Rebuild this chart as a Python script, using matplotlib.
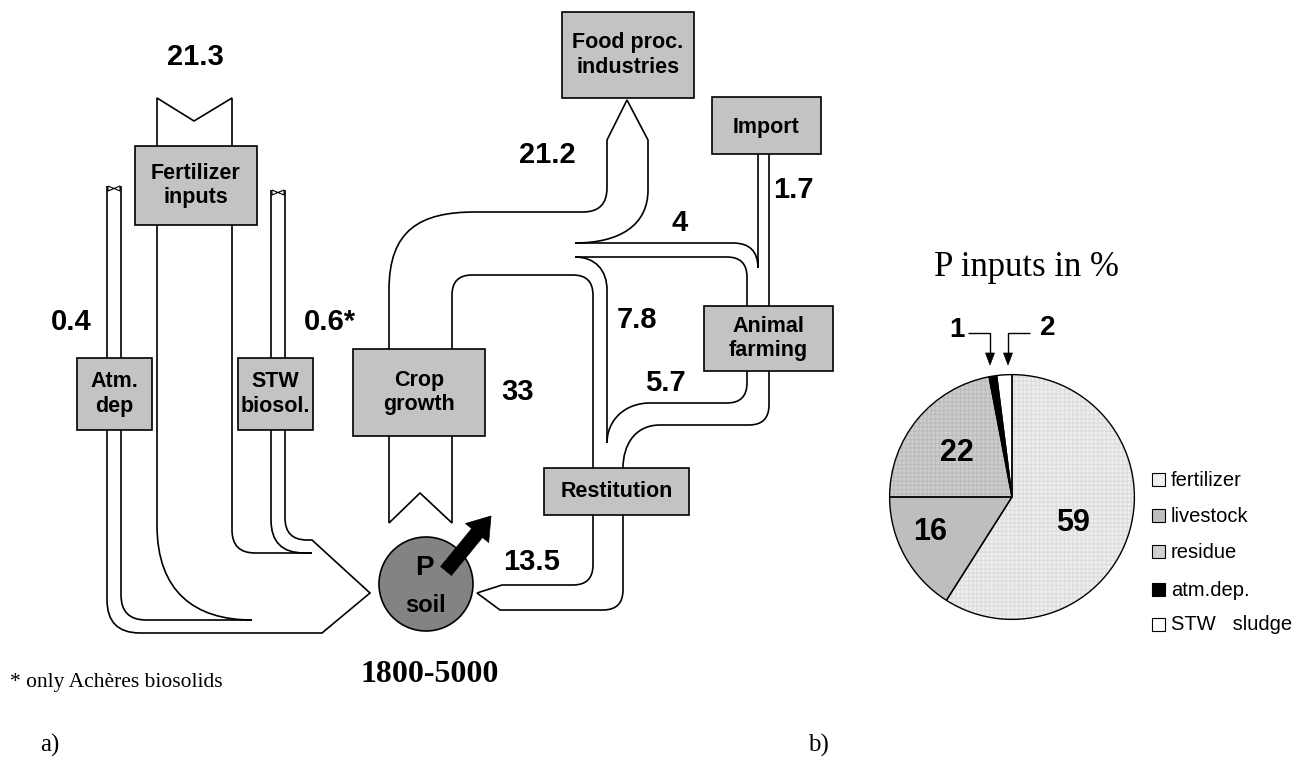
import matplotlib
matplotlib.use("Agg")
import matplotlib.pyplot as plt
from matplotlib.path import Path
from matplotlib.patches import PathPatch, Rectangle, Circle, Polygon
import numpy as np

# ---------------- data ----------------
flow_values = ["21.3", "0.4", "0.6*", "33", "21.2", "4", "1.7", "7.8", "5.7", "13.5"]
soil_stock = "1800-5000"
box_names = ["Fertilizer\ninputs", "Atm.\ndep", "STW\nbiosol.", "Crop\ngrowth",
             "Food proc.\nindustries", "Import", "Animal\nfarming", "Restitution"]
pie_categories = ["fertilizer", "livestock", "residue", "atm.dep.", "STW   sludge"]
pie_values = [59, 16, 22, 1, 2]
pie_shown = ["59", "16", "22", "1", "2"]
pie_title = "P inputs in %"
footnote = "* only Achères biosolids"

# ---------------- layout (pixels) ----------------
W, H = 1301, 769
fig = plt.figure(figsize=(W / 100, H / 100), dpi=100)
ax = fig.add_axes([0, 0, 1, 1])
ax.set_xlim(0, W)
ax.set_ylim(H, 0)
ax.axis("off")

BOX = "#c3c3c3"
LW = 1.2
SANS = "Liberation Sans"
SERIF = "Liberation Serif"


def line(cmds, lw=LW, target=None):
    target = target or ax
    verts, codes = [], []
    for c in cmds:
        if c[0] == "M":
            verts.append(c[1:3]); codes.append(Path.MOVETO)
        elif c[0] == "L":
            verts.append(c[1:3]); codes.append(Path.LINETO)
        elif c[0] == "Q":
            verts += [c[1:3], c[3:5]]; codes += [Path.CURVE3] * 2
        elif c[0] == "C":
            verts += [c[1:3], c[3:5], c[5:7]]; codes += [Path.CURVE4] * 3
    p = PathPatch(Path(verts, codes), facecolor="none", edgecolor="black",
                  lw=lw, zorder=2, capstyle="butt", joinstyle="miter")
    target.add_patch(p)


# fertilizer
line([("M", 157, 146), ("L", 157, 98), ("L", 194, 121), ("L", 232, 98), ("L", 232, 146)])
line([("M", 157, 225), ("L", 157, 525), ("C", 157, 592, 195, 620, 252, 620)])
line([("M", 232, 225), ("L", 232, 530), ("Q", 232, 553, 255, 553), ("L", 312, 553)])
# atm dep
line([("M", 107, 358), ("L", 107, 186)])
line([("M", 121, 358), ("L", 121, 186)])
line([("M", 108, 186), ("L", 120, 191), ("L", 120, 186), ("L", 108, 191), ("L", 108, 186)], lw=0.8)
line([("M", 107, 430), ("L", 107, 600), ("Q", 107, 633, 140, 633), ("L", 322, 633),
      ("L", 370, 593), ("L", 312, 540), ("L", 307, 540), ("Q", 285, 540, 285, 518), ("L", 285, 430)])
line([("M", 121, 430), ("L", 121, 595), ("Q", 121, 620, 146, 620), ("L", 252, 620)])
# STW
line([("M", 271, 358), ("L", 271, 190)])
line([("M", 285, 358), ("L", 285, 190)])
line([("M", 272, 190), ("L", 284, 195), ("L", 284, 190), ("L", 272, 195), ("L", 272, 190)], lw=0.8)
line([("M", 271, 430), ("L", 271, 520), ("Q", 271, 553, 304, 553), ("L", 312, 553)])
# crop
line([("M", 389, 436), ("L", 389, 523), ("L", 420, 493), ("L", 452, 523), ("L", 452, 436)])
line([("M", 389, 349), ("L", 389, 290), ("C", 389, 230, 420, 212, 475, 212), ("L", 583, 212),
      ("Q", 607, 212, 607, 188), ("L", 607, 140), ("L", 627, 100), ("L", 648, 140),
      ("L", 648, 190), ("C", 648, 225, 620, 243, 575, 243)])
line([("M", 575, 243), ("L", 733, 243), ("Q", 758, 243, 758, 268), ("L", 758, 154)])
line([("M", 452, 349), ("L", 452, 295), ("Q", 452, 275, 472, 275), ("L", 573, 275),
      ("Q", 593, 275, 593, 295), ("L", 593, 468)])
line([("M", 575, 257), ("L", 727, 257), ("Q", 747, 257, 747, 277), ("L", 747, 306)])
line([("M", 575, 257), ("C", 595, 257, 607, 270, 607, 290), ("L", 607, 443)])
line([("M", 769, 154), ("L", 769, 306)])
line([("M", 747, 371), ("L", 747, 383), ("Q", 747, 403, 727, 403), ("L", 650, 403),
      ("C", 625, 403, 607, 420, 607, 443)])
line([("M", 769, 371), ("L", 769, 405), ("Q", 769, 425, 749, 425), ("L", 660, 425),
      ("C", 635, 425, 623, 445, 623, 468)])
line([("M", 593, 515), ("L", 593, 565), ("Q", 593, 585, 573, 585), ("L", 502, 585),
      ("L", 477, 593), ("L", 500, 610), ("L", 603, 610), ("Q", 623, 610, 623, 590), ("L", 623, 515)])

# boxes
boxes = [(135, 146, 257, 225), (77, 358, 152, 430), (238, 358, 313, 430), (353, 349, 485, 436),
         (562, 12, 694, 98), (712, 97, 821, 154), (704, 306, 833, 371), (544, 468, 689, 515)]
text_y_shift = [0, 0, 0, 0, 0, 2, 0, 0]
for (x0, y0, x1, y1), name, dy in zip(boxes, box_names, text_y_shift):
    ax.add_patch(Rectangle((x0, y0), x1 - x0, y1 - y0, facecolor=BOX, edgecolor="black",
                           lw=LW, zorder=3))
    ax.text((x0 + x1) / 2, (y0 + y1) / 2 + dy, name, ha="center", va="center",
            family=SANS, weight="bold", fontsize=15.5, zorder=4, linespacing=1.2)

# soil pool
ax.add_patch(Circle((426, 584), 47, facecolor="#838383", edgecolor="black", lw=LW, zorder=3))
ax.text(424, 568, "P", ha="center", va="center", family=SANS, weight="bold", fontsize=20, zorder=4)
ax.text(425, 605, "soil", ha="center", va="center", family=SANS, weight="bold", fontsize=17, zorder=4)
# black arrow leaving soil
tail = np.array([446, 571.0]); tip = np.array([491, 516.0])
u = (tip - tail) / np.linalg.norm(tip - tail); n = np.array([-u[1], u[0]])
hl, sw, hw = 22, 7, 15
base = tip - u * hl
poly = [tail + n * sw, base + n * sw, base + n * hw, tip, base - n * hw, base - n * sw, tail - n * sw]
ax.add_patch(Polygon(poly, closed=True, facecolor="black", edgecolor="black", lw=0.5, zorder=5))

# flow labels
flow_pos = [(195, 57), (71, 322), (330, 322), (518, 392), (547, 155), (680, 223),
            (793, 190), (637, 320), (665, 383), (532, 562)]
for (x, y), t in zip(flow_pos, flow_values):
    ax.text(x, y, t, ha="center", va="center", family=SANS, weight="bold", fontsize=21)

ax.text(430, 675, soil_stock, ha="center", va="center", family=SERIF, weight="bold", fontsize=23)
ax.text(10, 682, footnote, ha="left", va="center", family=SERIF, fontsize=15.5)
ax.text(50, 745, "a)", ha="center", va="center", family=SERIF, fontsize=18)
ax.text(818, 745, "b)", ha="center", va="center", family=SERIF, fontsize=18)

# ---------------- pie ----------------
cx, cy, R = 1012, 497, 123
pax = fig.add_axes([(cx - R) / W, 1 - (cy + R) / H, 2 * R / W, 2 * R / H])
pie_colors = ["#efefef", "#bebebe", "#cfcfcf", "black", "white"]
hatch_colors = ["#dedede", "#bebebe", "#bdbdbd", "black", "white"]
hatches = ["++++", None, "++++", None, None]
# fill layer with light texture
w_fill, _ = pax.pie(pie_values, colors=pie_colors, startangle=90, counterclock=False,
                    wedgeprops=dict(linewidth=0))
for w, hc, h in zip(w_fill, hatch_colors, hatches):
    if h:
        w.set_hatch(h)
        w.set_edgecolor(hc)
        w.set_linewidth(0)
# outline layer
w_edge, _ = pax.pie(pie_values, colors=["none"] * len(pie_values), startangle=90,
                    counterclock=False, wedgeprops=dict(edgecolor="black", linewidth=1.0))
pax.set_xlim(-1.005, 1.005)
pax.set_ylim(-1.005, 1.005)
pax.set_aspect("equal")
pax.axis("off")

pie_label_pos = [(1073, 523), (930, 532), (957, 453)]
for (x, y), t in zip(pie_label_pos, pie_shown[:3]):
    pax.text(x, y, t, ha="center", va="center", family=SANS, weight="bold", fontsize=22,
             transform=ax.transData, zorder=6)

ax.text(1027, 268, pie_title, ha="center", va="center", family=SERIF, fontsize=25)
# small slice callouts
ax.text(957, 330, pie_shown[3], ha="center", va="center", family=SANS, weight="bold", fontsize=20)
ax.text(1048, 328, pie_shown[4], ha="center", va="center", family=SANS, weight="bold", fontsize=20)
line([("M", 968, 333), ("L", 990, 333), ("L", 990, 356)], lw=1.0)
line([("M", 1030, 333), ("L", 1008, 333), ("L", 1008, 356)], lw=1.0)
for x in (990, 1008):
    ax.add_patch(Polygon([(x - 4.5, 353), (x + 4.5, 353), (x, 365)], closed=True,
                         facecolor="black", edgecolor="black", lw=0.5, zorder=5))

# legend
leg_y = [480, 516, 552, 590, 625]
for y, name, col in zip(leg_y, pie_categories, pie_colors):
    ax.add_patch(Rectangle((1152, y - 7.5), 13, 13, facecolor=col, edgecolor="black", lw=0.8, zorder=3))
    ax.text(1171, y, name, ha="left", va="center", family=SANS, fontsize=14.5)

fig.savefig("out.png", dpi=100)
